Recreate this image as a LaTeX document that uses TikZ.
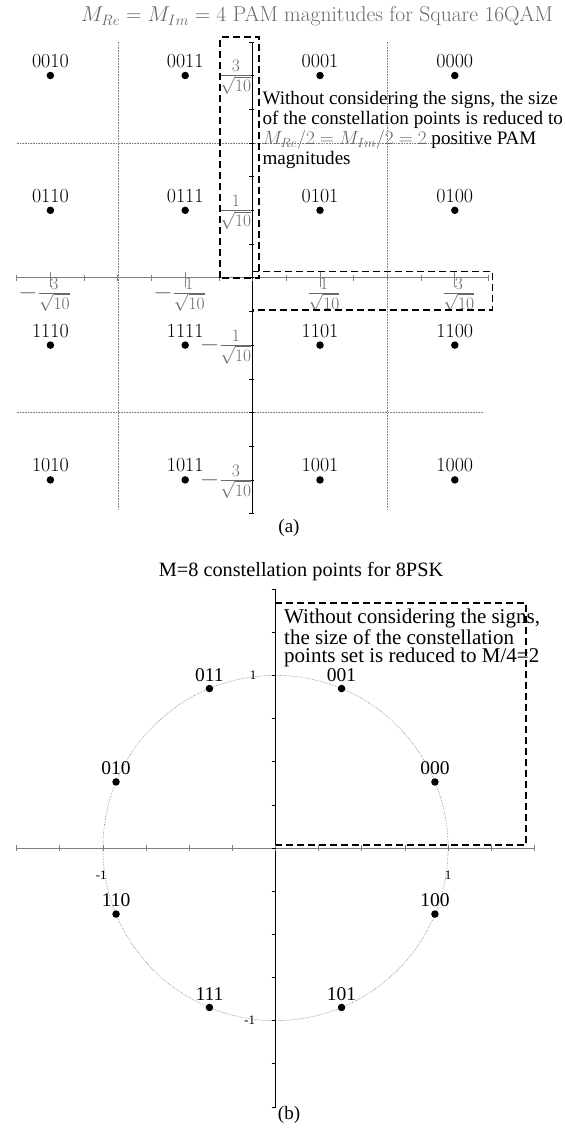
\RequirePackage{fix-cm}
\documentclass[tikz,border=0pt]{standalone}
\usepackage{fontspec}
\newfontfamily\timesfont{Liberation Serif}
\usetikzlibrary{positioning}
\definecolor{axisgray}{RGB}{128,128,128}
\definecolor{textgray}{RGB}{105,105,105}
\DeclareMathSizes{25}{25}{17.5}{12.5}

\tikzset{
  dot/.style={circle,fill=black,inner sep=0pt,minimum size=7.5pt},
  qamlabel/.style={font=\fontsize{20}{22}\selectfont,inner sep=1pt},
  psklabel/.style={font=\timesfont\fontsize{19.5}{21}\selectfont,inner sep=1pt},
  fraclabel/.style={font=\fontsize{25}{27}\selectfont,text=textgray,inner sep=0pt},
  ticklabel/.style={font=\timesfont\fontsize{13}{14}\selectfont,inner sep=0pt},
  regionbox/.style={draw=black,line width=1.6pt,dash pattern=on 7pt off 4pt},
  gridline/.style={axisgray,densely dotted,line width=0.6pt},
}

\begin{document}
\begin{tikzpicture}[x=1pt,y=1pt]
  \useasboundingbox (0,0) rectangle (565,-1128);

  % (a) square 16QAM
  \node[font=\fontsize{21.5}{23}\selectfont,text=textgray] (titleA) at (317,-16.4)
    {$M_{Re}=M_{Im}=4$ PAM magnitudes for Square 16QAM};
  \begin{scope}[shift={(252.6pt,-277.7pt)},x=67.4pt,y=67.4pt]
    \foreach \v in {-2,2}{
      \draw[gridline] (\v,3.5)--(\v,-3.45);
      \draw[gridline] (-3.5,\v)--(3.42,\v);
    }
    \draw[axisgray,line width=0.9pt] (-3.5,0)--(3.5,0);
    \draw[line width=0.7pt] (0,-3.5)--(0,3.5);
    \foreach \k in {-7,...,7}{
      \draw[axisgray,line width=0.7pt] (\k/2,0.045)--(\k/2,-0.045);
      \draw[line width=0.6pt] (-0.05,\k/2)--(0.02,\k/2);
    }
    \foreach \t in {-3,-1,1,3}
      \draw[axisgray,line width=0.7pt] (\t,0.08)--(\t,-0.14);
    \foreach \t/\n in {-3/xm3,-1/xm1,1/xp1,3/xp3}{
      \pgfmathtruncatemacro{\m}{abs(\t)}
      \ifnum\t<0
        \node[fraclabel,anchor=north] (\n) at (\t+0.06,0) {$\llap{$-$}\frac{\m}{\sqrt{10}}$};
      \else
        \node[fraclabel,anchor=north] (\n) at (\t+0.06,0) {$\frac{\m}{\sqrt{10}}$};
      \fi
    }
    \node[fraclabel,anchor=base east,yshift=-6.25pt] (yp3) at (0,3) {$\frac{3}{\sqrt{10}}$};
    \node[fraclabel,anchor=base east,yshift=-6.25pt] (yp1) at (0,1) {$\frac{1}{\sqrt{10}}$};
    \node[fraclabel,anchor=base east,yshift=-6.25pt] (ym1) at (0,-1) {$-\frac{1}{\sqrt{10}}$};
    \node[fraclabel,anchor=base east,yshift=-6.25pt] (ym3) at (0,-3) {$-\frac{3}{\sqrt{10}}$};
    \foreach \b/\y in {00/3,01/1,11/-1,10/-3}{
      \foreach \a/\x in {10/-3,11/-1,01/1,00/3}{
        \node[dot] (q\b\a) at (\x,\y) {};
        \node[qamlabel,above=2.5pt of q\b\a] (l\b\a) {\b\a};
      }
    }
    \draw[regionbox] (-0.48,0) rectangle (0.095,3.57);
    \draw[regionbox] (0,0.09) rectangle (3.56,-0.48);
  \end{scope}
  \node[font=\timesfont\fontsize{19.1}{20}\selectfont,align=left,anchor=north west,inner sep=0pt]
    (noteA) at (262.4,-91)
    {Without considering the signs, the size\\
     of the constellation points is reduced to\\
     \textcolor{textgray}{$M_{Re}/2=M_{Im}/2=2$} positive PAM\\
     magnitudes};
  \node[font=\timesfont\fontsize{19}{20}\selectfont] (capA) at (289,-527.5) {(a)};

  % (b) 8PSK
  \node[font=\timesfont\fontsize{20.3}{22}\selectfont] (titleB) at (301,-572)
    {M=8 constellation points for 8PSK};
  \begin{scope}[shift={(275.5pt,-848pt)},x=172.6pt,y=172.6pt]
    \draw[gridline] (0,0) circle (1);
    \draw[axisgray,line width=0.9pt] (-1.5,0)--(1.5,0);
    \draw[line width=0.7pt] (0,-1.5)--(0,1.5);
    \foreach \k in {-6,...,6}{
      \draw[axisgray,line width=0.7pt] (\k/4,0.018)--(\k/4,-0.018);
      \draw[line width=0.6pt] (-0.022,\k/4)--(0.004,\k/4);
    }
    \node[ticklabel] (v1) at (-0.13,1) {1};
    \node[ticklabel] (vm1) at (-0.15,-1) {-1};
    \node[ticklabel] (h1) at (1,-0.155) {1};
    \node[ticklabel] (hm1) at (-1.01,-0.155) {-1};
    \foreach \lbl/\ang in {000/22.5,001/67.5,011/112.5,010/157.5,110/202.5,111/247.5,101/292.5,100/337.5}{
      \node[dot] (s\lbl) at (\ang:1) {};
      \node[psklabel,above=2pt of s\lbl] (m\lbl) {\lbl};
    }
    \draw[regionbox] (0,0.017) rectangle (1.451,1.42);
  \end{scope}
  \node[font=\timesfont\fontsize{21}{18.5}\selectfont,align=left,anchor=north west,inner sep=0pt]
    (noteB) at (284,-609)
    {Without considering the signs,\\
     the size of the constellation\\
     points set is reduced to M/4=2};
  \node[font=\timesfont\fontsize{19}{20}\selectfont] (capB) at (289,-1115) {(b)};
\end{tikzpicture}
\end{document}
